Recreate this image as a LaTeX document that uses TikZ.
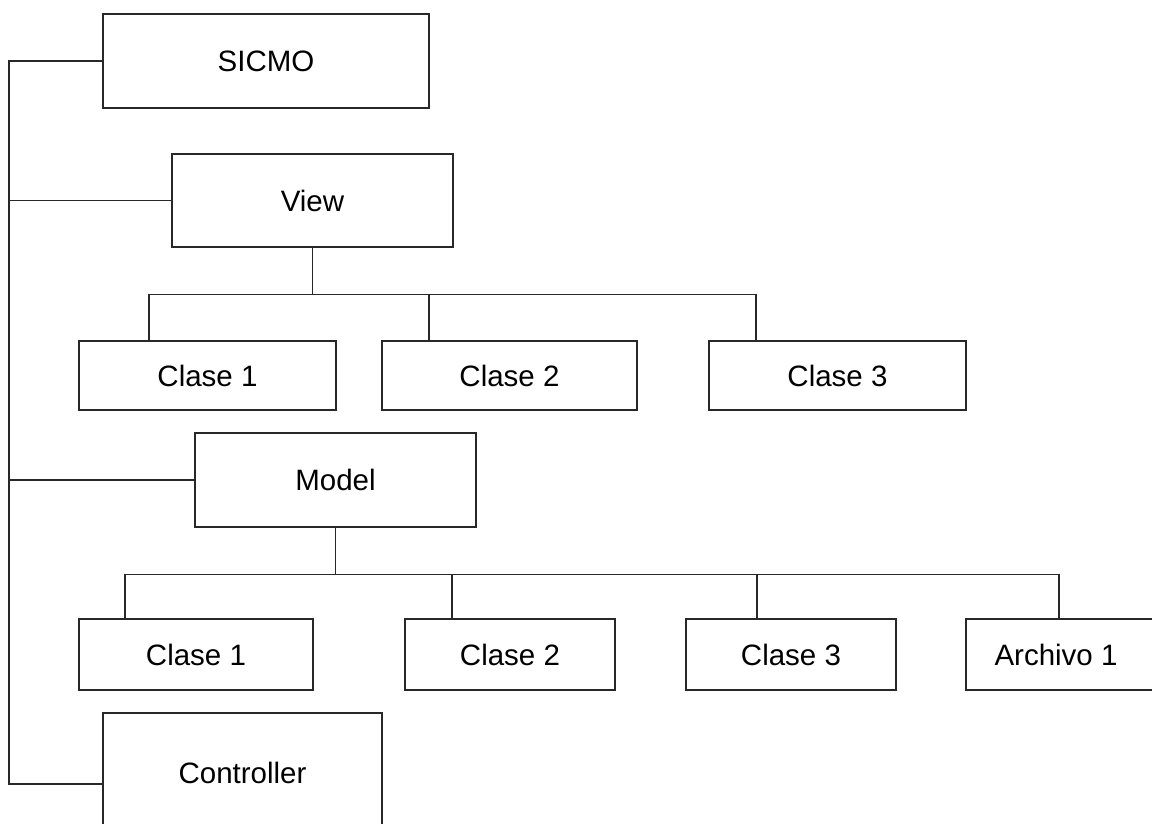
\documentclass[tikz,border=0pt]{standalone}
\usepackage{fontspec}
\setmainfont{Liberation Sans}
\definecolor{linegray}{RGB}{40,40,40}
\begin{document}
\begin{tikzpicture}[x=1pt,y=-1pt,
  box/.style={draw=linegray, line width=1.2pt, fill=white, inner sep=0pt,
    font=\fontsize{29.5}{35}\selectfont},
  link/.style={draw=linegray, line width=1.2pt}]
\useasboundingbox (0,0) rectangle (1152,824);
\clip (0,0) rectangle (1152,824);
\fill[white] (0,0) rectangle (1152,824);

\node[box, minimum width=326pt, minimum height=94pt] (sicmo) at (266,61) {SICMO};
\node[box, minimum width=281pt, minimum height=93pt] (view) at (312.5,200.5) {View};
\node[box, minimum width=257pt, minimum height=69pt] (vc1) at (207.5,375.5) {Clase 1};
\node[box, minimum width=255pt, minimum height=69pt] (vc2) at (509.5,375.5) {Clase 2};
\node[box, minimum width=257pt, minimum height=69pt] (vc3) at (837.5,375.5) {Clase 3};
\node[box, minimum width=281pt, minimum height=94pt] (model) at (335.5,480) {Model};
\node[box, minimum width=234pt, minimum height=71pt] (mc1) at (196,654.5) {Clase 1};
\node[box, minimum width=210pt, minimum height=71pt] (mc2) at (510,654.5) {Clase 2};
\node[box, minimum width=210pt, minimum height=71pt] (mc3) at (791,654.5) {Clase 3};
\node[box, minimum width=194pt, minimum height=71pt] (arch) at (1063,654.5) {\hspace*{-14pt}Archivo 1};
\node[box, minimum width=279pt, minimum height=120pt] (ctrl) at (242.5,773) {Controller};

% trunk
\coordinate (t0) at (9,61);
\draw[link] (sicmo.west) -- (t0) |- ([yshift=-11pt]ctrl.west);
\draw[link] (view.west) -- (view.west -| t0);
\draw[link] (model.west) -- (model.west -| t0);

% view bus
\draw[link] (view.south) -- ++(0,47) coordinate (vb);
\draw[link] ([xshift=-58.5pt]vc1.north) |- (vb) -| ([xshift=-81.5pt]vc3.north);
\draw[link] ([xshift=-80.5pt]vc2.north) -- ([xshift=-80.5pt]vc2.north |- vb);

% model bus
\draw[link] (model.south) -- ++(0,47) coordinate (mb);
\draw[link] ([xshift=-71pt]mc1.north) |- (mb) -| ([xshift=-4pt]arch.north);
\draw[link] ([xshift=-58pt]mc2.north) -- ([xshift=-58pt]mc2.north |- mb);
\draw[link] ([xshift=-34pt]mc3.north) -- ([xshift=-34pt]mc3.north |- mb);
\end{tikzpicture}
\end{document}
